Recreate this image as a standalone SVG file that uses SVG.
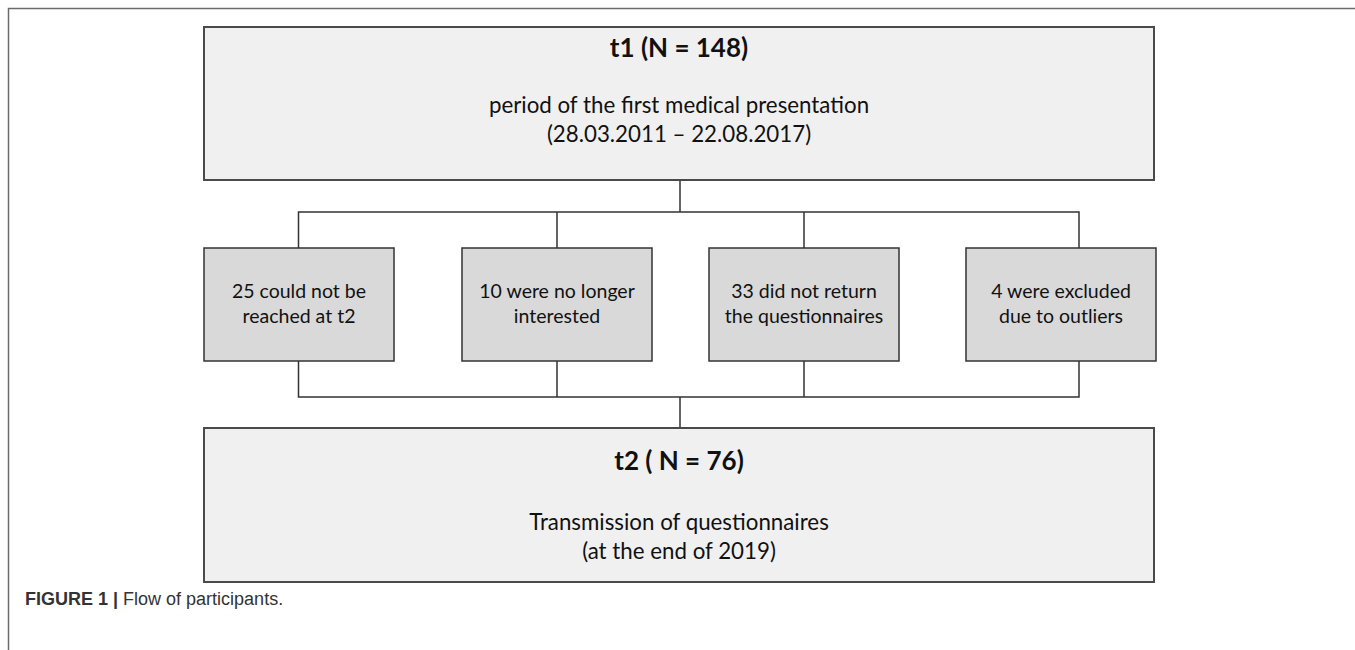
<svg xmlns="http://www.w3.org/2000/svg" width="1355" height="650" viewBox="0 0 1355 650">
<style>
.frame{fill:none;stroke:#6b6b6b;stroke-width:1.5}
.big{fill:#f0f0f0;stroke:#4a4a4a;stroke-width:2}
.small{fill:#d9d9d9;stroke:#333;stroke-width:1.5}
.conn{fill:none;stroke:#333;stroke-width:1.5}
.t{font-family:Lato,"Liberation Sans",sans-serif;fill:#111;text-anchor:middle}
.title{font-size:26px;font-weight:bold}
.body{font-size:22.3px}
.sb{font-size:19.5px}
.cap{font-family:"Liberation Sans",Arial,sans-serif;font-size:18px;fill:#333}
</style>
<path class="frame" d="M8.5 650V8.5H1355"/>
<g id="connectors">
<path class="conn" d="M680 180V212M298.5 248V212H1079V248M557 212V248M804 212V248"/>
<path class="conn" d="M298.5 361V397H1079V361M557 361V397M804 361V397M680 397V428"/>
</g>
<g id="t1">
<rect class="big" x="204" y="27" width="950" height="153"/>
<text class="t title" x="679" y="57">t1 (N = 148)</text>
<text class="t body" x="679" y="113">period of the first medical presentation</text>
<text class="t body" x="679" y="142">(28.03.2011 – 22.08.2017)</text>
</g>
<g id="b1">
<rect class="small" x="204" y="248" width="190" height="113"/>
<text class="t sb" x="299" y="298">25 could not be</text>
<text class="t sb" x="299" y="323">reached at t2</text>
</g>
<g id="b2">
<rect class="small" x="462" y="248" width="190" height="113"/>
<text class="t sb" x="557" y="298">10 were no longer</text>
<text class="t sb" x="557" y="323">interested</text>
</g>
<g id="b3">
<rect class="small" x="709" y="248" width="190" height="113"/>
<text class="t sb" x="804" y="298">33 did not return</text>
<text class="t sb" x="804" y="323">the questionnaires</text>
</g>
<g id="b4">
<rect class="small" x="966" y="248" width="190" height="113"/>
<text class="t sb" x="1061" y="298">4 were excluded</text>
<text class="t sb" x="1061" y="323">due to outliers</text>
</g>
<g id="t2">
<rect class="big" x="204" y="428" width="950" height="154"/>
<text class="t title" x="679" y="470">t2 ( N = 76)</text>
<text class="t body" x="679" y="530">Transmission of questionnaires</text>
<text class="t body" x="679" y="559">(at the end of 2019)</text>
</g>
<text class="cap" x="25" y="605"><tspan font-weight="bold">FIGURE 1 | </tspan>Flow of participants.</text>
</svg>
